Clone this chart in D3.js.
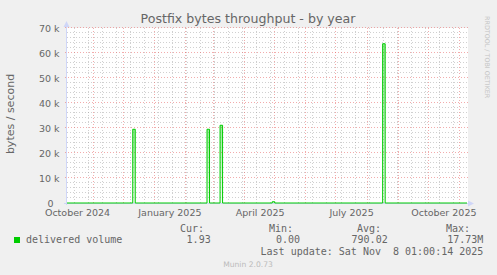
<!DOCTYPE html>
<html><head><meta charset="utf-8">
<script src="https://cdn.jsdelivr.net/npm/d3@7"></script>
<style>
html,body{margin:0;padding:0;background:#f0f0f0;}
svg{display:block;}
text{font-family:"DejaVu Sans",sans-serif;}
.mono{font-family:"DejaVu Sans Mono",monospace;white-space:pre;}
</style></head><body>
<svg id="chart" width="497" height="275"></svg>
<script>
// ---- data ----
const chartTitle = "Postfix bytes throughput - by year";
const yAxisTitle = "bytes / second";
const seriesName = "delivered volume";
const sampleTimes = ["2024-10-05T12:00:00Z","2024-12-10T00:00:00Z","2024-12-12T12:00:00Z",
  "2025-02-22T00:00:00Z","2025-02-24T12:00:00Z","2025-03-07T00:00:00Z","2025-03-09T12:00:00Z",
  "2025-04-28T00:00:00Z","2025-04-30T12:00:00Z","2025-08-16T00:00:00Z","2025-08-18T12:00:00Z",
  "2025-11-08T01:00:00Z"];
const deliveredVolume = [0,29500,0,29500,0,31100,0,500,0,63700,0,0];
const yTickValues = [0,10000,20000,30000,40000,50000,60000,70000];
const yTickLabels = ["0","10 k","20 k","30 k","40 k","50 k","60 k","70 k"];
const xTickMonths = ["2024-10-01","2025-01-01","2025-04-01","2025-07-01","2025-10-01"];
const xTickLabels = ["October 2024","January 2025","April 2025","July 2025","October 2025"];
const legendHeaders = ["Cur:","Min:","Avg:","Max:"];
const legendValues = ["1.93","0.00","790.02","17.73M"];
const lastUpdate = "Last update: Sat Nov  8 01:00:14 2025";
const footer = "Munin 2.0.73";
const sideText = "RRDTOOL / TOBI OETIKER";
const seriesColor = "#00cc00";

// ---- layout ----
const svg = d3.select("#chart");
const L = 67, R = 467, T = 28, B = 203;
const times = sampleTimes.map(s => new Date(s));
const x = d3.scaleUtc().domain([times[0], times[times.length-1]]).range([L, R]);
const y = d3.scaleLinear().domain([0, 70000]).range([B, T]);
const snap = v => Math.round(v) + 0.5;
const minorColor = "rgba(150,150,150,0.45)";
const majorColor = "rgba(230,90,90,0.5)";

// canvas
svg.append("rect").attr("x", L).attr("y", T).attr("width", R - L + 1).attr("height", B - T).attr("fill", "#ffffff");

const grid = svg.append("g");
// minor horizontal
d3.range(0, 70001, 2000).filter(v => v % 10000 !== 0).forEach(v => {
  grid.append("line").attr("x1", L).attr("x2", R + 1).attr("y1", snap(y(v)) - 1).attr("y2", snap(y(v)) - 1)
    .attr("stroke", minorColor).attr("stroke-dasharray", "1,2");
});
// minor vertical (every 2 weeks, Sundays)
for (let t = new Date("2024-10-13T00:00:00Z"); t <= x.domain()[1]; t = d3.utcDay.offset(t, 14)) {
  const px = snap(x(t)) - 1;
  grid.append("line").attr("x1", px).attr("x2", px).attr("y1", T).attr("y2", B)
    .attr("stroke", minorColor).attr("stroke-dasharray", "1,2");
}
// major horizontal
yTickValues.forEach(v => {
  if (v === 0) return;
  grid.append("line").attr("x1", L - 2).attr("x2", R + 2).attr("y1", snap(y(v)) - 1).attr("y2", snap(y(v)) - 1)
    .attr("stroke", majorColor).attr("stroke-dasharray", "1,2");
});
// major vertical (months)
d3.utcMonth.range(x.domain()[0], x.domain()[1]).forEach(t => {
  const px = snap(x(t)) - 1;
  grid.append("line").attr("x1", px).attr("x2", px).attr("y1", T).attr("y2", B + 2)
    .attr("stroke", majorColor).attr("stroke-dasharray", "1,2");
});

// axes
const axisColor = "#CFD6F8";
svg.append("line").attr("x1", L - 0.5).attr("x2", L - 0.5).attr("y1", B + 2).attr("y2", T - 4).attr("stroke", axisColor);
svg.append("line").attr("x1", L - 3).attr("x2", R + 3).attr("y1", B + 0.5).attr("y2", B + 0.5).attr("stroke", axisColor);
svg.append("polygon").attr("points", `${L-3.5},${T-1} ${L-0.5},${T-7} ${L+2.5},${T-1}`).attr("fill", axisColor);
svg.append("polygon").attr("points", `${R+1},${B-2.5} ${R+7},${B+0.5} ${R+1},${B+3.5}`).attr("fill", axisColor);

// spike fills
const defs = svg.append("defs");
const grad = defs.append("linearGradient").attr("id", "spikeGrad").attr("x1", 0).attr("y1", 0).attr("x2", 0).attr("y2", 1);
grad.append("stop").attr("offset", "0").attr("stop-color", seriesColor).attr("stop-opacity", 0.4);
grad.append("stop").attr("offset", "1").attr("stop-color", seriesColor).attr("stop-opacity", 0.05);
deliveredVolume.forEach((v, i) => {
  if (v > 0 && i < deliveredVolume.length - 1) {
    svg.append("rect").attr("x", x(times[i])).attr("width", x(times[i+1]) - x(times[i]))
      .attr("y", y(v)).attr("height", y(0) - y(v)).attr("fill", "url(#spikeGrad)");
  }
});
// line
const line = d3.line().x((d, i) => x(times[i])).y(d => y(d)).curve(d3.curveStepAfter);
svg.append("path").attr("d", line(deliveredVolume)).attr("fill", "none").attr("stroke", seriesColor).attr("stroke-width", 1);

// tick labels
const fontColor = "#666666";
yTickValues.forEach((v, i) => {
  const isUnitless = !yTickLabels[i].includes(" ");
  svg.append("text").attr("x", isUnitless ? 53.5 : 59.5).attr("y", y(v) + 3.5).attr("text-anchor", "end")
    .attr("font-size", 9.5).attr("fill", fontColor).text(yTickLabels[i]);
});
xTickMonths.forEach((m, i) => {
  const t = d3.utcDay.offset(new Date(m + "T00:00:00Z"), 15);
  svg.append("text").attr("x", x(t)).attr("y", 216).attr("text-anchor", "middle")
    .attr("font-size", 9.5).attr("fill", fontColor).text(xTickLabels[i]);
});

// titles
svg.append("text").attr("x", 248).attr("y", 23).attr("text-anchor", "middle").attr("font-size", 12.6)
  .attr("fill", fontColor).text(chartTitle);
svg.append("text").attr("transform", "translate(14,114) rotate(-90)").attr("text-anchor", "middle")
  .attr("font-size", 11).attr("fill", fontColor).text(yAxisTitle);
svg.append("text").attr("transform", "translate(485,16) rotate(90)").attr("text-anchor", "start")
  .attr("font-size", 6.4).attr("fill", "#c4c4c4").text(sideText);

// legend
svg.append("rect").attr("x", 14).attr("y", 237).attr("width", 6).attr("height", 6).attr("fill", seriesColor);
svg.append("text").attr("class", "mono").attr("x", 26).attr("y", 243).attr("font-size", 10).attr("fill", fontColor).text(seriesName);
const headerEnds = [204, 293, 381, 470];
const valueEnds = [210.7, 300, 387.7, 483.3];
legendHeaders.forEach((h, i) => {
  svg.append("text").attr("class", "mono").attr("x", headerEnds[i]).attr("y", 231.5).attr("text-anchor", "end")
    .attr("font-size", 10).attr("fill", fontColor).text(h);
  svg.append("text").attr("class", "mono").attr("x", valueEnds[i]).attr("y", 243).attr("text-anchor", "end")
    .attr("font-size", 10).attr("fill", fontColor).text(legendValues[i]);
});
svg.append("text").attr("class", "mono").attr("x", 483.3).attr("y", 255).attr("text-anchor", "end")
  .attr("font-size", 10).attr("fill", fontColor).text(lastUpdate);
svg.append("text").attr("x", 248).attr("y", 266.5).attr("text-anchor", "middle").attr("font-size", 7.6)
  .attr("fill", "#bbbbbb").text(footer);
</script>
</body></html>
